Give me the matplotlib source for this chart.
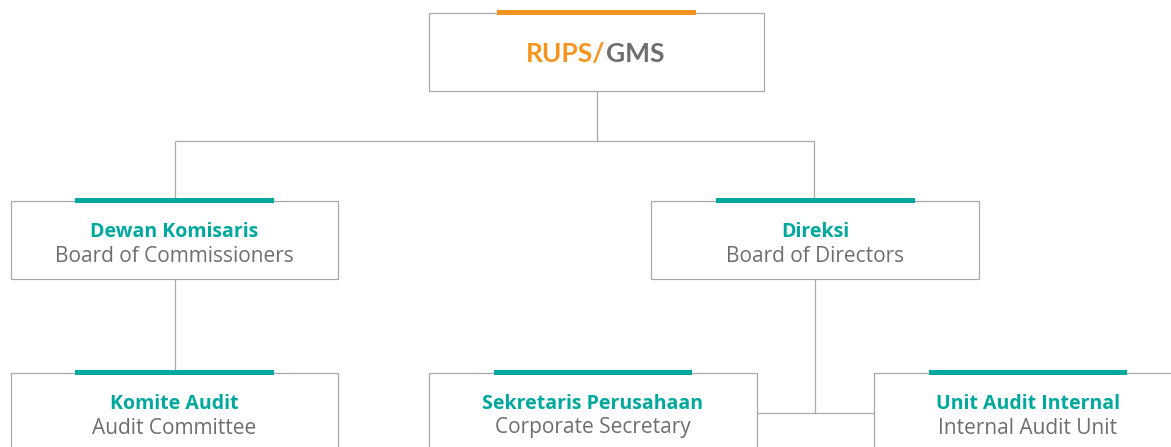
import matplotlib
matplotlib.use("Agg")
import matplotlib.pyplot as plt
from matplotlib.patches import Rectangle

# ---- data ----
titles_id = ["Dewan Komisaris", "Direksi", "Komite Audit", "Sekretaris Perusahaan", "Unit Audit Internal"]
titles_en = ["Board of Commissioners", "Board of Directors", "Audit Committee", "Corporate Secretary", "Internal Audit Unit"]
top_left = "RUPS/"
top_right = "GMS"

ORANGE = "#F7941D"
TEAL = "#00A99D"
GRAY_TXT = "#6D6E71"
LINE = "#A7A9AC"

W, H = 1171, 447
fig = plt.figure(figsize=(W / 100, H / 100), dpi=100)
ax = fig.add_axes([0, 0, 1, 1])
ax.set_xlim(0, W)
ax.set_ylim(H, 0)
ax.axis("off")

FONT = "Open Sans"

def line(xs, ys):
    ax.plot(xs, ys, color=LINE, lw=0.9, zorder=1, solid_capstyle="butt")

# connectors
line([597, 597], [91, 141])
line([175, 814], [141, 141])
line([175, 175], [141, 201])
line([814, 814], [141, 201])
line([175, 175], [279, 373])
line([815, 815], [279, 413])
line([757, 874], [413, 413])

# top box
ax.add_patch(Rectangle((429, 13), 335, 78, fill=False, ec=LINE, lw=0.9, zorder=2))
ax.add_patch(Rectangle((497, 10), 199, 5, fc=ORANGE, ec="none", zorder=3))
ax.text(605, 54, top_left, color=ORANGE, fontsize=19, fontweight="bold", family="Lato",
        ha="right", va="center", zorder=4)
ax.text(606, 54, top_right, color=GRAY_TXT, fontsize=19, fontweight="bold", family="Lato",
        ha="left", va="center", zorder=4)

# lower boxes: (x0, y0, x1, y1, bar x0, bar x1)
geo = [
    (11, 201, 338, 279, 75, 274),
    (651, 201, 979, 279, 716, 915),
    (11, 373, 338, 470, 75, 274),
    (429, 373, 757, 470, 494, 692),
    (874, 373, 1190, 470, 929, 1127),
]
for (x0, y0, x1, y1, bx0, bx1), t1, t2 in zip(geo, titles_id, titles_en):
    cx = (bx0 + bx1) / 2
    ax.add_patch(Rectangle((x0, y0), x1 - x0, y1 - y0, fill=False, ec=LINE, lw=0.9, zorder=2))
    ax.add_patch(Rectangle((bx0, y0 - 3), bx1 - bx0, 5, fc=TEAL, ec="none", zorder=3))
    ax.text(cx, y0 + 31, t1, color=TEAL, fontsize=14, fontweight="bold", family=FONT,
            ha="center", va="center", zorder=4)
    ax.text(cx, y0 + 55, t2, color=GRAY_TXT, fontsize=15, family=FONT,
            ha="center", va="center", zorder=4)

fig.savefig("out.png", dpi=100)
